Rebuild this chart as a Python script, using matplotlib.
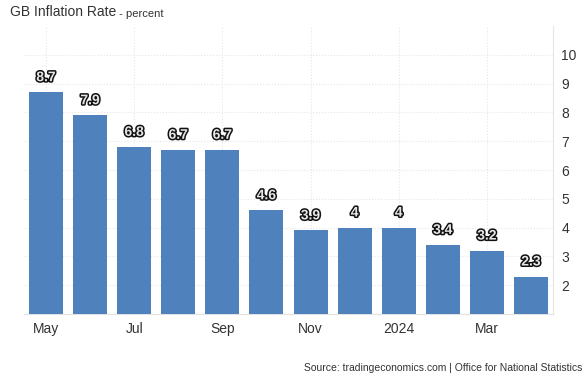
import matplotlib.pyplot as plt
import matplotlib.patheffects as pe

plt.rcParams['font.family'] = ['Liberation Sans', 'DejaVu Sans']

# dane
months = ['May', 'Jun', 'Jul', 'Aug', 'Sep', 'Oct', 'Nov', 'Dec', 'Jan', 'Feb', 'Mar', 'Apr']
values = [8.7, 7.9, 6.8, 6.7, 6.7, 4.6, 3.9, 4.0, 4.0, 3.4, 3.2, 2.3]
labels = ['8.7', '7.9', '6.8', '6.7', '6.7', '4.6', '3.9', '4', '4', '3.4', '3.2', '2.3']
tick_pos = [0, 2, 4, 6, 8, 10]
tick_labels = ['May', 'Jul', 'Sep', 'Nov', '2024', 'Mar']
y_ticks = [2, 3, 4, 5, 6, 7, 8, 9, 10]

fig = plt.figure(figsize=(5.85, 3.75), dpi=100)
ax = fig.add_axes([24 / 585, 61 / 375, 529 / 585, 288 / 375])

x = list(range(len(values)))
ax.bar(x, values, width=0.77, color='#4f81bd', zorder=3)

for xi, v, lab in zip(x, values, labels):
    ax.text(xi, v + 0.28, lab, ha='center', va='bottom', fontsize=10, fontweight='bold',
            color='#e6e6e6', zorder=4,
            path_effects=[pe.withStroke(linewidth=2.2, foreground='#111111')])

ax.set_xlim(-0.5, 11.5)
ax.set_ylim(1, 11)
ax.set_xticks(tick_pos)
ax.set_xticklabels(tick_labels, fontsize=10, color='#333333')
ax.set_yticks(y_ticks)
ax.yaxis.tick_right()
ax.set_yticklabels([str(t) for t in y_ticks], fontsize=10, color='#333333')
ax.tick_params(axis='both', length=0, pad=6)
ax.tick_params(axis='y', pad=6)

ax.grid(True, color='#e6e6e6', linestyle=':', linewidth=0.8, zorder=0)
for s in ['top', 'left']:
    ax.spines[s].set_visible(False)
ax.spines['right'].set_color('#e6e6e6')
ax.spines['bottom'].set_color('#e0e0e0')

title = fig.text(10 / 585, 1 - 12 / 375, 'GB Inflation Rate', fontsize=10, color='#333333', va='center')
ax.annotate(' - percent', xy=(1, 0), xycoords=title, va='bottom', fontsize=8, color='#333333')
fig.text(582 / 585, 2 / 375, 'Source: tradingeconomics.com | Office for National Statistics',
         fontsize=7.5, color='#333333', ha='right', va='bottom')

fig.savefig('out.png', dpi=100)
